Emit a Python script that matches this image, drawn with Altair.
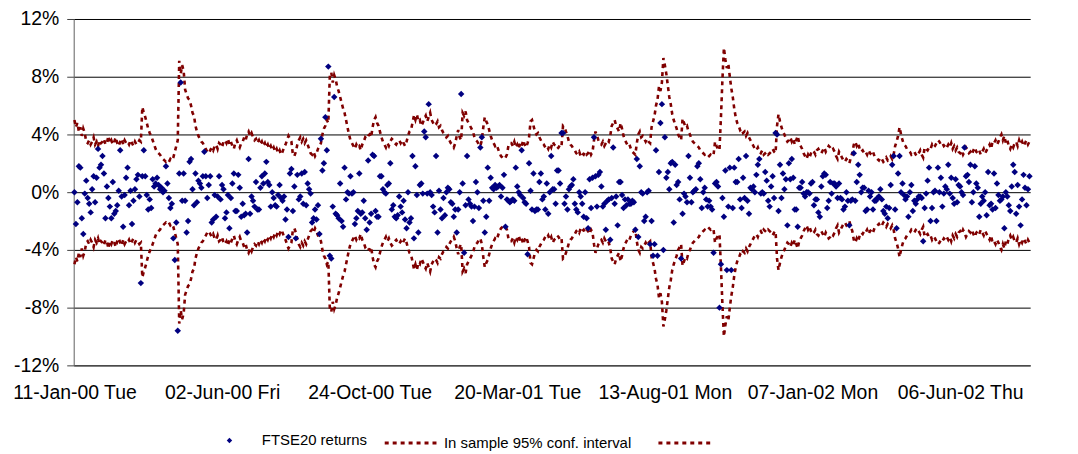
import json
import altair as alt
import pandas as pd

# ---------------- data (percent) ----------------
ret_p1 = [0.0, -2.2, -0.7, 1.8, 1.7, -1.8, -2.9, -0.1, 0.8, -0.4,
          -0.8, -1.4, 0.2, 1.1, -0.7, 1.0, 3.0, 1.7, 1.9, 2.5,
          1.3, -1.8, 0.4, -0.4, -1.0, -1.8, 0.7, -1.5, -1.3, -0.9,
          0.1, 2.9, -0.3, -2.4, -0.2, 1.0, 1.7, -0.9, 0.1, -2.2,
          -0.6, 0.2, 0.9, 1.2, -0.3, -6.3, 1.1, 2.9, 1.1, -0.2,
          -1.2, -0.5, -1.1, 0.9, 0.4, 0.6, 1.0, 0.5, 0.2, 0.3,
          0.0, 0.1, 1.8, 0.6, -0.4, -1.1, -0.8, -3.2, -4.7, -2.1,
          -9.6, 1.3, 7.6, -0.6]
ret_p2 = [1.3, -0.6, -2.8, -2.0, 2.1, 2.3, 0.2, -0.9, 1.3, -0.7,
          0.8, 0.6, 0.3, 1.1, 2.8, 1.1, -0.4, 0.5, 1.1, -2.1,
          -1.9, -0.2, -1.7, -0.3, 1.1, -0.5, 0.5, 0.2, -1.8, -1.4,
          -0.2, -2.5, -0.4, 0.6, 1.3, -1.3, -1.3, 1.2, 0.3, -1.7,
          -0.8, -1.6, -1.5, -2.8, 2.3, -1.5, -0.3, -0.6, -1.0, 0.7,
          -1.2, -1.2, 0.3, 1.1, 0.6, 1.3, 2.1, 0.7, 0.5, -1.0,
          0.0, -0.4, -0.9, -1.0, -0.2, 0.5, -0.4, -0.6, -0.3, -1.9,
          -1.2, -3.1, 1.3, 1.6]
ret_p3 = [-1.3, 0.4, -3.2, 1.2, -0.5, -0.3, 1.3, -0.8, 1.4, -0.9,
          0.6, 0.2, -0.1, -2.1, -1.8, -1.2, -1.9, -0.9, -2.9, 3.7,
          1.5, 2.0, 5.2, 2.9, 8.7, -4.4, -4.6, -1.0, 6.6, -1.5,
          -1.6, -1.8, 0.6, -2.0, -2.4, 1.7, -0.5, 0.0, -0.1, 1.1,
          -0.1, 0.0, -2.2, -1.8, -1.3, 1.3, -1.5, -1.4, -0.6, -1.8,
          -2.6, 2.2, -2.1, -1.5, 2.6, 2.5, -1.3, -1.7, -1.7, 1.1,
          1.1, 0.2, 0.0, -0.1, 0.5, 0.6, 2.0, -1.2, -0.9, -1.7,
          -1.8, -1.6, -0.3, -1.0]
ret_p4 = [-1.4, -0.6, -1.9, -2.5, 0.0, -2.1, -1.8, 2.5, -3.2, 1.8,
          -0.2, -2.8, 0.5, 0.6, -0.1, 4.2, 3.8, -0.1, 6.1, 0.0,
          -0.2, -1.0, -1.4, 2.5, -2.8, 0.1, -1.2, -1.8, -0.4, -1.6,
          0.0, 0.3, 0.2, -0.7, -0.8, -1.7, -1.2, -2.8, -1.2, 0.0,
          6.8, 0.6, -4.2, -0.9, 2.5, -0.5, -0.8, -1.0, -2.0, -1.0,
          0.7, 0.0, -1.1, 3.1, 3.8, -0.6, -2.8, -1.7, 1.7, -0.6,
          1.0, 0.3, 0.2, 0.5, 0.3, 0.4, 0.5, -0.3, 0.3, 1.2,
          -2.4, -0.5, -0.6, -0.7]
ret_p5 = [-0.6, -0.5, -0.6, 1.7, 0.4, 0.0, -0.2, 2.9, -0.4, -0.7,
          -0.8, -4.3, 2.0, 0.1, -1.2, 1.3, -1.3, -1.2, -1.2, 0.7,
          1.3, -0.5, -0.3, -1.2, 0.6, -1.5, 0.0, 2.5, 0.2, 0.2,
          -0.8, 1.5, 1.5, 0.6, 4.1, 4.1, -0.8, -0.3, -1.2, 0.2,
          0.4, 0.5, 0.9, -0.8, -1.2, -1.4, 0.0, -0.3, -0.8, -1.7,
          0.0, -1.8, -2.5, 0.9, -1.1, 1.0, 3.8, 1.1, -1.0, 1.2,
          1.4, 0.4, -1.0, -0.8, -2.6, -0.6, -0.5, -3.3, -0.4, 3.1,
          -0.8, -0.3, -2.3, 0.7]
ret_p6 = [0.7, -0.2, -1.1, -0.5, -0.9, -0.5, -0.8, -0.8, -0.6, -0.7,
          -2.6, 2.3, -3.1, 1.8, 0.0, -0.1, -2.0, -1.7, 0.0, 0.1,
          -3.6, -2.0, -4.4, -3.6, 2.9, -4.4, 1.4, 4.8, 6.1, -4.0,
          3.8, 1.0, 1.4, 0.2, 2.0, 2.1, -2.1, 1.9, 0.5, 0.7,
          -0.5, -4.6, -1.5, -0.1, -0.3, -0.7, 2.5, 1.0, -0.7, 0.0,
          0.1, 0.2, 1.8, 2.0, 0.9, -1.1, 0.0, 0.3, -0.5, -1.0,
          -0.6, -1.0, -1.2, -4.2, 0.6, 0.7, 0.4, -8.0, -5.0, -0.4,
          -1.7, 1.5, -5.4, -1.0]
ret_p7 = [1.7, -5.4, -1.1, 1.7, 0.7, 0.7, 2.3, -0.5, -1.1, 1.0,
          -0.4, 2.5, -0.6, -1.5, 0.3, 0.2, 0.4, 0.0, 1.2, 1.9,
          2.3, -0.1, 0.0, -0.1, 1.4, 0.8, -0.6, -1.0, 0.4, 1.1,
          -0.4, 4.1, 4.0, -1.3, 1.9, -0.4, 1.3, 0.2, 0.9, -2.3,
          2.0, 0.9, 2.3, 1.0, -1.2, -1.2, -2.4, 0.3, 0.3, 0.7,
          -0.1, -0.3, 0.0, 0.0, -0.1, 0.6, 0.7, -0.9, -0.5, -0.5,
          -1.4, -1.7, 0.4, 1.1, 1.3, 1.2, -1.1, -0.6, 0.7, -0.1,
          0.6, 0.6, 0.4, -0.4]
ret_p8 = [0.6, -0.4, -0.5, -1.2, -1.0, 0.0, -0.6, -2.3, -0.6, -0.5,
          2.7, -0.6, 0.7, 1.9, 1.2, 0.0, 0.3, 0.3, -1.3, -1.2,
          0.1, -0.3, 0.0, -1.2, -0.6, -0.6, -0.4, -0.3, 0.2, -0.5,
          -1.3, -1.5, -1.0, -1.8, -1.1, 0.5, 1.9, 2.5, -1.2, -2.5,
          1.3, 2.5, 0.0, 0.6, -0.2, -0.5, -0.3, -1.7, 0.0, 0.5,
          -1.3, -0.6, -0.8, -0.5, -0.3, -0.3, -0.4, -3.4, -1.1, -0.1,
          0.8, 1.7, -2.0, -1.1, 0.0, 0.1, -2.0, 1.7, 0.0, 1.0,
          -1.0, -0.1, 0.4, 0.2]
ret_p9 = [1.9, -0.1, 1.0, -0.4, -0.8, 0.9, -0.7, 0.5, 0.4, 0.0,
          -0.2, 3.1, 1.1, 1.2, 0.7, 1.9, -0.7, 0.0, 1.8, 0.6,
          0.3, -1.7, -0.8, -0.3, -0.6, 0.0, -1.6, 1.4, -0.9, -0.8,
          -1.2, 1.3, -1.1, 0.6, -0.2, -0.6, -0.5, -0.3, -2.5, 0.0,
          -0.3, -0.9, -1.3, 0.4, 1.9, 1.4, -1.5, 0.5, -1.0, -2.3,
          -0.5, 1.2, 0.3, -0.9, 0.2, 1.1]

# half-width of the in-sample 95% confidence interval (percent)
ci_p1 = [5.0, 4.5, 4.8, 4.2, 4.5, 3.9, 4.4, 4.1, 3.5, 3.4,
         3.6, 3.3, 3.5, 3.8, 3.3, 3.5, 3.2, 3.6, 3.4, 3.5,
         3.7, 3.3, 3.4, 3.9, 3.4, 3.6, 3.3, 3.5, 3.8, 3.4,
         3.2, 3.5, 3.7, 3.3, 3.6, 3.4, 3.5, 3.3, 3.6, 3.4,
         3.2, 3.5, 3.3, 3.4, 3.6, 3.5, 5.9, 5.5, 5.2, 4.8,
         4.4, 4.1, 3.9, 3.6, 3.3, 3.0, 2.8, 2.7, 2.6, 2.4,
         2.3, 2.2, 2.1, 2.2, 2.1, 2.3, 2.2, 2.4, 2.8, 3.2,
         3.6, 9.1, 8.2, 8.8]
ci_p2 = [8.4, 7.1, 6.8, 6.5, 6.4, 6.0, 5.5, 5.3, 4.6, 4.2,
         3.9, 3.7, 3.5, 3.4, 3.2, 3.0, 2.8, 2.7, 2.9, 3.1,
         2.9, 3.2, 3.3, 3.0, 3.4, 3.3, 3.1, 3.5, 3.6, 3.4,
         3.7, 3.3, 3.5, 3.2, 3.0, 3.4, 3.6, 3.3, 3.1, 3.4,
         3.5, 3.8, 3.6, 4.0, 4.2, 3.9, 4.1, 3.8, 3.6, 3.7,
         3.4, 3.6, 3.3, 3.5, 3.2, 3.4, 3.1, 3.3, 3.0, 3.2,
         2.9, 3.1, 2.8, 3.0, 2.7, 2.9, 2.6, 2.8, 3.1, 3.3,
         3.6, 3.9, 3.7, 3.5]
ci_p3 = [2.6, 2.5, 2.8, 3.3, 3.6, 3.8, 3.5, 3.7, 3.4, 3.6,
         3.3, 3.0, 2.7, 2.6, 2.8, 2.5, 2.7, 3.0, 3.2, 3.4,
         4.0, 4.4, 4.6, 5.0, 4.8, 8.0, 8.3, 7.6, 8.1, 7.8,
         7.3, 7.0, 6.6, 6.2, 5.8, 5.5, 5.0, 4.5, 4.0, 3.6,
         3.4, 3.2, 3.0, 3.3, 3.1, 3.2, 2.9, 3.3, 3.5, 3.8,
         3.7, 3.9, 4.0, 3.8, 4.5, 5.0, 5.2, 4.8, 4.6, 4.2,
         3.8, 3.5, 3.3, 3.1, 3.4, 3.2, 3.5, 3.7, 3.6, 3.4,
         3.3, 3.5, 3.6, 3.4]
ci_p4 = [3.6, 3.4, 3.2, 3.5, 3.9, 4.2, 4.3, 4.8, 5.3, 5.0,
         5.4, 4.9, 5.0, 4.6, 4.8, 5.1, 5.3, 4.9, 5.2, 5.5,
         5.0, 4.8, 4.6, 4.7, 4.9, 4.5, 4.6, 4.3, 4.1, 4.0,
         3.8, 3.9, 3.6, 3.4, 3.3, 3.1, 3.4, 3.9, 4.3, 3.8,
         3.6, 5.5, 5.3, 5.6, 5.0, 4.8, 4.6, 4.4, 4.2, 3.8,
         3.6, 3.5, 3.3, 3.2, 3.6, 4.5, 5.2, 4.9, 4.7, 4.3,
         3.9, 3.6, 3.4, 3.2, 3.3, 3.0, 2.7, 2.5, 2.4, 2.3,
         2.4, 2.6, 3.2, 3.4]
ci_p5 = [3.4, 3.2, 3.5, 3.1, 3.3, 3.0, 3.4, 3.2, 3.6, 3.3,
         3.1, 3.4, 3.8, 4.9, 5.0, 4.6, 4.2, 4.0, 4.1, 3.8,
         3.6, 3.4, 3.3, 3.1, 3.2, 3.0, 3.3, 3.1, 3.5, 3.3,
         3.2, 3.0, 3.1, 3.3, 3.2, 4.6, 4.5, 4.2, 3.9, 3.5,
         3.3, 3.2, 3.0, 2.9, 2.7, 2.6, 2.8, 2.5, 2.7, 2.6,
         2.8, 2.6, 2.7, 2.9, 2.6, 2.8, 3.6, 4.2, 3.9, 3.6,
         3.4, 3.3, 3.5, 3.2, 3.4, 3.6, 3.5, 3.9, 4.6, 4.8,
         5.0, 4.6, 4.4, 4.2]
ci_p6 = [4.8, 4.4, 3.9, 3.6, 3.4, 3.2, 3.3, 3.0, 2.8, 2.7,
         2.6, 3.4, 4.0, 4.2, 3.8, 3.9, 3.7, 3.5, 3.7, 3.5,
         3.4, 4.5, 4.9, 5.3, 6.0, 6.4, 7.3, 7.0, 7.6, 9.3,
         8.8, 8.2, 7.4, 6.6, 6.1, 5.4, 5.0, 4.7, 4.4, 4.0,
         3.8, 3.6, 5.1, 4.8, 4.5, 4.6, 4.2, 4.0, 3.7, 3.5,
         3.4, 3.3, 3.2, 3.1, 2.9, 2.8, 2.7, 2.6, 2.7, 2.6,
         2.5, 2.6, 2.5, 2.6, 3.5, 3.2, 3.0, 2.9, 5.2, 7.8,
         10.0, 9.2, 8.6, 8.9]
ci_p7 = [8.0, 7.2, 6.6, 5.8, 5.2, 4.8, 4.6, 4.3, 4.4, 4.1,
         4.2, 3.9, 4.1, 3.8, 3.6, 3.4, 3.2, 3.0, 2.9, 3.1,
         2.8, 2.7, 2.9, 2.6, 2.7, 2.8, 2.6, 2.7, 2.8, 3.0,
         2.8, 2.7, 4.6, 5.4, 4.9, 4.5, 4.2, 4.0, 3.7, 3.5,
         3.6, 3.8, 3.5, 3.7, 3.3, 3.6, 3.9, 3.4, 3.2, 3.0,
         2.7, 2.5, 2.3, 2.6, 2.4, 2.7, 2.9, 2.8, 2.6, 2.9,
         3.0, 2.8, 2.7, 2.9, 3.1, 2.8, 3.0, 3.2, 3.1, 2.9,
         3.0, 2.8, 2.5, 2.3]
ci_p8 = [2.8, 2.6, 2.4, 2.2, 2.1, 2.3, 2.2, 2.0, 2.4, 2.7,
         3.3, 3.5, 3.2, 3.4, 3.0, 2.8, 2.9, 2.7, 2.8, 2.6,
         2.9, 2.7, 2.6, 2.8, 2.5, 2.4, 2.3, 2.2, 2.4, 2.3,
         2.1, 2.2, 2.4, 2.2, 2.3, 2.5, 2.3, 2.6, 3.2, 3.5,
         3.9, 4.5, 4.0, 3.6, 3.3, 3.2, 3.0, 2.9, 2.8, 2.6,
         2.7, 2.8, 2.6, 2.5, 2.7, 2.9, 2.6, 2.4, 3.1, 3.0,
         2.9, 3.1, 3.0, 3.3, 3.1, 3.2, 3.4, 3.6, 3.5, 3.3,
         3.4, 3.2, 3.3, 3.1]
ci_p9 = [3.3, 3.1, 3.4, 3.0, 3.2, 2.9, 3.1, 2.8, 2.7, 2.9,
         2.6, 2.8, 3.1, 2.9, 2.7, 2.8, 2.6, 2.9, 3.1, 2.8,
         2.7, 2.9, 2.6, 2.8, 3.0, 2.7, 2.9, 3.1, 3.3, 3.0,
         3.5, 3.4, 3.6, 3.3, 3.5, 3.8, 4.0, 3.6, 3.9, 3.4,
         3.6, 3.2, 3.0, 3.3, 3.1, 3.4, 3.5, 3.2, 3.6, 3.3,
         3.5, 3.2, 3.4, 3.6, 3.3, 3.5]

tick_index = [0, 100, 200, 300, 400, 500, 600]
tick_labels = ["11-Jan-00 Tue", "02-Jun-00 Fri", "24-Oct-00 Tue", "20-Mar-01 Tue",
               "13-Aug-01 Mon", "07-Jan-02 Mon", "06-Jun-02 Thu"]
y_ticks = [-12, -8, -4, 0, 4, 8, 12]

# ---------------- tables ----------------
returns = ret_p1 + ret_p2 + ret_p3 + ret_p4 + ret_p5 + ret_p6 + ret_p7 + ret_p8 + ret_p9
ci = ci_p1 + ci_p2 + ci_p3 + ci_p4 + ci_p5 + ci_p6 + ci_p7 + ci_p8 + ci_p9

pts = pd.DataFrame({"day": list(range(len(returns))), "ret": returns,
                    "series": ["FTSE20 returns"] * len(returns)})
upper = pd.DataFrame({"day": list(range(len(ci))), "value": ci, "band": ["upper"] * len(ci)})
lower = pd.DataFrame({"day": list(range(len(ci))), "value": [-v for v in ci], "band": ["lower"] * len(ci)})
bands = pd.concat([upper, lower], ignore_index=True)

n = max(len(returns), len(ci))
xscale = alt.Scale(domain=[-0.5, n - 0.5], nice=False, zero=False)
yscale = alt.Scale(domain=[-12, 12], nice=False, zero=False)

FONT = "Liberation Sans"
label_expr = f"{json.dumps(tick_labels)}[indexof({json.dumps(tick_index)}, datum.value)]"

x_axis = alt.Axis(values=tick_index, labelExpr=label_expr, title=None, ticks=False, grid=False,
                  domainColor="#404040", domainWidth=1, labelFontSize=19.5, labelPadding=18,
                  labelOverlap=False, labelFlush=False, labelFont=FONT, labelColor="#000000")
y_axis = alt.Axis(values=y_ticks, labelExpr="datum.value + '%'", title=None, grid=True,
                  gridColor="#000000", gridWidth=1, ticks=True, tickSize=7, tickColor="#404040",
                  domainColor="#606060", domainWidth=1, labelFontSize=19.5, labelPadding=8,
                  labelFont=FONT, labelColor="#000000")

lines = alt.Chart(bands).mark_line(color="#800000", strokeWidth=2.6, opacity=1).encode(
    x=alt.X("day:Q", scale=xscale, axis=x_axis),
    y=alt.Y("value:Q", scale=yscale, axis=y_axis),
    strokeDash=alt.StrokeDash(
        "band:N",
        scale=alt.Scale(domain=["upper", "lower"], range=[[4, 4], [4, 4]]),
        legend=alt.Legend(
            title=None, orient="none", legendX=311, legendY=397, direction="horizontal",
            symbolType="stroke", symbolSize=3025, symbolStrokeWidth=3,
            symbolStrokeColor="#800000", symbolDash=[4, 4],
            labelExpr="datum.value == 'upper' ? 'In sample 95% conf. interval' : ''",
            labelOffset=3, labelLimit=400, columnPadding=20, labelFontSize=15, labelFont=FONT,
            labelColor="#000000", padding=0,
        ),
    ),
)

points = alt.Chart(pts).mark_point(filled=True, shape="diamond", size=42, color="#000080",
                                   opacity=1).encode(
    x=alt.X("day:Q", scale=xscale, axis=x_axis),
    y=alt.Y("ret:Q", scale=yscale, axis=y_axis),
    shape=alt.Shape(
        "series:N",
        scale=alt.Scale(domain=["FTSE20 returns"], range=["diamond"]),
        legend=alt.Legend(
            title=None, orient="none", legendX=149, legendY=416, direction="horizontal",
            symbolSize=30, symbolFillColor="#000080", symbolStrokeColor="#000080",
            symbolStrokeWidth=0, labelOffset=25, labelLimit=400, labelFontSize=15, labelFont=FONT,
            labelColor="#000000", padding=0,
        ),
    ),
)

chart = alt.layer(lines, points).properties(
    width=961, height=348,
    padding={"left": 66, "top": 10, "right": 40, "bottom": 86},
    autosize=alt.AutoSizeParams(type="none"),
    background="#ffffff",
).configure_view(stroke=None)

chart.save("out.html", embed_options={"renderer": "svg", "actions": False})
